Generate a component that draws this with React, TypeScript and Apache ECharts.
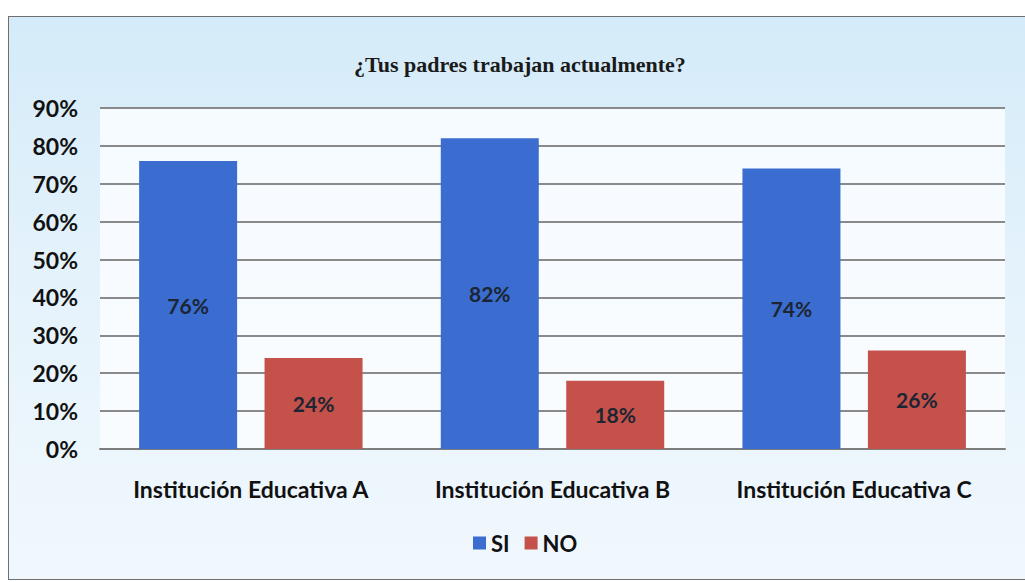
import React, { useEffect, useRef } from "react";
import * as echarts from "echarts";

const categories = ["Institución Educativa A", "Institución Educativa B", "Institución Educativa C"];
const siValues = [76, 82, 74];
const noValues = [24, 18, 26];
const seriesNames = ["SI", "NO"];
const titleText = "¿Tus padres trabajan actualmente?";

export default function App() {
  const ref = useRef<HTMLDivElement>(null);
  useEffect(() => {
    if (!ref.current) return;
    const chart = echarts.init(ref.current, undefined, { renderer: "svg" });
    const font = "Lato, 'Open Sans', sans-serif";
    const labelStyle = {
      show: true,
      position: "inside" as const,
      formatter: "{c}%",
      fontFamily: font,
      fontWeight: "bold" as const,
      fontSize: 21,
      color: "#1c2533",
    };
    chart.setOption({
      animation: false,
      backgroundColor: "transparent",
      title: {
        text: titleText,
        left: 354,
        top: 53,
        padding: 0,
        textStyle: {
          fontFamily: "'Liberation Serif', 'DejaVu Serif', serif",
          fontWeight: "bold",
          fontSize: 22,
          color: "#1a1a1a",
        },
      },
      legend: {
        data: seriesNames,
        bottom: 23,
        left: 468,
        icon: "rect",
        itemWidth: 13,
        itemHeight: 13,
        itemGap: 15,
        textStyle: { fontFamily: font, fontWeight: "bold", fontSize: 22, color: "#111" },
      },
      grid: {
        left: 100,
        right: 20,
        top: 108,
        bottom: 133,
        show: true,
        backgroundColor: "rgba(250,253,255,0.85)",
        borderWidth: 0,
      },
      xAxis: {
        type: "category",
        data: categories,
        axisTick: { show: false },
        axisLine: { show: true, lineStyle: { color: "#7d7d7d", width: 2 } },
        axisLabel: { interval: 0, margin: 28, fontFamily: font, fontWeight: "bold", fontSize: 23, color: "#111" },
      },
      yAxis: {
        type: "value",
        min: 0,
        max: 90,
        interval: 10,
        axisLine: { show: false },
        axisTick: { show: false },
        splitLine: { lineStyle: { color: "#8a8a8a", width: 2 } },
        axisLabel: {
          formatter: "{value}%",
          margin: 22,
          fontFamily: font,
          fontWeight: "bold",
          fontSize: 23,
          color: "#111",
        },
      },
      series: [
        {
          name: seriesNames[0],
          type: "bar",
          data: siValues,
          barWidth: 98,
          barGap: "28%",
          itemStyle: { color: "#3b6dd0" },
          label: labelStyle,
        },
        {
          name: seriesNames[1],
          type: "bar",
          data: noValues,
          barWidth: 98,
          itemStyle: { color: "#c4524a" },
          label: labelStyle,
        },
      ],
    });
    return () => chart.dispose();
  }, []);

  return (
    <div style={{ position: "absolute", left: 0, top: 0, width: 1025, height: 582, background: "#ffffff", overflow: "hidden" }}>
      <div
        style={{
          position: "absolute",
          left: 8,
          top: 16,
          width: 1040,
          height: 562,
          border: "1.5px solid #6f6f6f",
          background: "linear-gradient(180deg, #d4ebf9 0%, #e4f2fb 45%, #f1f8fd 100%)",
        }}
      />
      <div ref={ref} style={{ position: "absolute", left: 0, top: 0, width: 1025, height: 582 }} />
    </div>
  );
}
